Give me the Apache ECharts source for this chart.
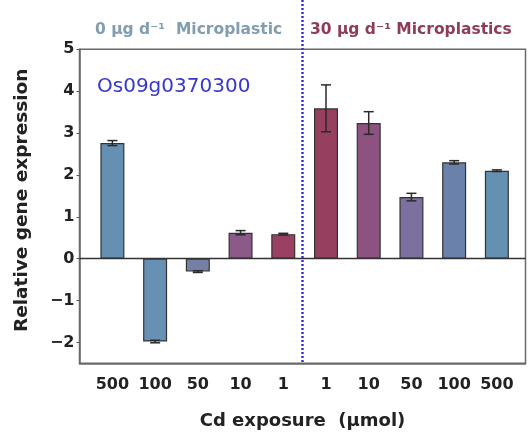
<!DOCTYPE html>
<html>
<head>
<meta charset="utf-8">
<script src="https://cdn.jsdelivr.net/npm/echarts@6/dist/echarts.min.js"></script>
<style>
  html, body { margin: 0; padding: 0; background: #fff; }
  #chart { width: 530px; height: 437px; }
</style>
</head>
<body>
<div id="chart"></div>
<script>
// Cd exposure levels (left group: 0 µg/d microplastic, right group: 30 µg/d)
var cats = ['500', '100', '50', '10', '1', '1', '10', '50', '100', '500'];
var expr = [2.76, -1.98, -0.31, 0.62, 0.585, 3.59, 3.24, 1.47, 2.30, 2.10];
var errs = [0.06, 0.03, 0.02, 0.05, 0.02, 0.56, 0.27, 0.09, 0.04, 0.02];
var barColors = ['#6690b2', '#6690b4', '#7580a6', '#8b5a89', '#9a4062',
                 '#963f5e', '#8d527f', '#7d6f9f', '#6a81ac', '#6490b2'];
var yTicks = [-2, -1, 0, 1, 2, 3, 4, 5];
var xPos = [1, 2, 3, 4, 5, 6, 7, 8, 9, 10];
var dividerX = 5.45;

var font = '"DejaVu Sans", sans-serif';

var barData = expr.map(function (v, i) {
    return { value: [xPos[i], v], itemStyle: { color: barColors[i] } };
});
var errData = expr.map(function (v, i) {
    return [xPos[i], v - errs[i], v + errs[i]];
});

var option = {
    backgroundColor: '#fff',
    animation: false,
    grid: {
        left: 79.5,
        right: 4.5,
        top: 49.3,
        bottom: 73.7,
        show: true,
        borderColor: '#6a6a6a',
        borderWidth: 1.5
    },
    xAxis: {
        type: 'value',
        min: 0.23,
        max: 10.67,
        name: 'Cd exposure  (μmol)',
        nameLocation: 'middle',
        nameGap: 49,
        nameTextStyle: { fontFamily: font, fontWeight: 'bold', fontSize: 18, color: '#222' },
        axisLine: { onZero: false, lineStyle: { color: '#6a6a6a', width: 1.5 } },
        axisTick: { show: false },
        splitLine: { show: false },
        axisLabel: {
            customValues: xPos,
            formatter: function (v) { return cats[Math.round(v) - 1]; },
            fontFamily: font, fontWeight: 'bold', fontSize: 16, color: '#222',
            margin: 14
        }
    },
    yAxis: {
        type: 'value',
        min: -2.5,
        max: 5,
        name: 'Relative gene expression',
        nameLocation: 'middle',
        nameGap: 48,
        nameTextStyle: { fontFamily: font, fontWeight: 'bold', fontSize: 18.5, color: '#222', padding: [0, 0, 0, 12] },
        axisLine: { show: true, lineStyle: { color: '#6a6a6a', width: 1.5 } },
        axisTick: { show: true, customValues: yTicks, length: 3, lineStyle: { color: '#555' } },
        splitLine: { show: false },
        axisLabel: {
            customValues: yTicks,
            formatter: function (v) { return v < 0 ? '\u2212' + Math.abs(v) : String(v); },
            fontFamily: font, fontWeight: 'bold', fontSize: 16, color: '#222',
            margin: 5
        }
    },
    series: [
        {
            type: 'bar',
            barWidth: 24,
            data: barData,
            itemStyle: { borderColor: '#333', borderWidth: 1.2 },
            markLine: {
                silent: true,
                symbol: 'none',
                label: { show: false },
                lineStyle: { color: '#333', width: 1.3, type: 'solid' },
                data: [{ yAxis: 0 }]
            }
        },
        {
            type: 'custom',
            data: errData,
            z: 5,
            renderItem: function (params, api) {
                var x = api.coord([api.value(0), 0])[0];
                var lo = api.coord([api.value(0), api.value(1)])[1];
                var hi = api.coord([api.value(0), api.value(2)])[1];
                var hw = 5;
                var st = { stroke: '#2a2a2a', lineWidth: 1.5 };
                return {
                    type: 'group',
                    children: [
                        { type: 'line', shape: { x1: x, y1: lo, x2: x, y2: hi }, style: st },
                        { type: 'line', shape: { x1: x - hw, y1: hi, x2: x + hw, y2: hi }, style: st },
                        { type: 'line', shape: { x1: x - hw, y1: lo, x2: x + hw, y2: lo }, style: st }
                    ]
                };
            }
        }
    ],
    graphic: [
        {
            id: 'leftTitle', type: 'text', left: 95, top: 22,
            style: { text: '0 μg d⁻¹  Microplastic', font: 'bold 15.5px "DejaVu Sans"', fill: '#809db1' }
        },
        {
            id: 'rightTitle', type: 'text', left: 310, top: 22,
            style: { text: '30 μg d⁻¹ Microplastics', font: 'bold 15.5px "DejaVu Sans"', fill: '#8f3b5c' }
        },
        {
            id: 'gene', type: 'text', left: 97, top: 77,
            style: { text: 'Os09g0370300', font: '20px "DejaVu Sans"', fill: '#3838cc' }
        }
    ]
};

var chart = echarts.init(document.getElementById('chart'));
chart.setOption(option);

// dotted divider between the two microplastic groups, running up past the frame
var dx = chart.convertToPixel({ xAxisIndex: 0 }, dividerX);
var dyBottom = chart.convertToPixel({ yAxisIndex: 0 }, -2.5);
chart.setOption({
    graphic: [
        {
            id: 'divider', type: 'line', z: 10,
            shape: { x1: dx, y1: 0, x2: dx, y2: dyBottom },
            style: { stroke: '#3434e0', lineWidth: 2.5, lineDash: [2, 2] }
        }
    ]
});
</script>
</body>
</html>
